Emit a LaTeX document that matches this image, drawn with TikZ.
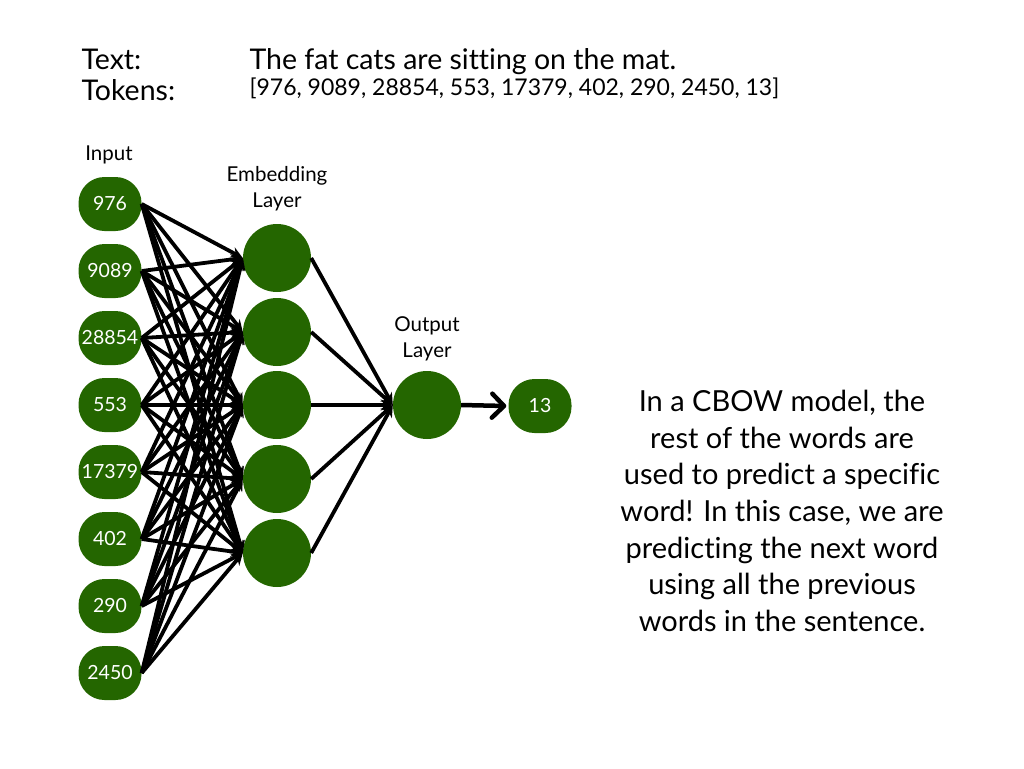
\documentclass[tikz,border=0pt]{standalone}
\usepackage{fontspec}
\setmainfont{Lato}[Ligatures=NoCommon]
\usetikzlibrary{arrows.meta}
\definecolor{nodegreen}{HTML}{246600}
\begin{document}
\begin{tikzpicture}[x=1pt,y=-1pt,
  inp/.style={draw=none,fill=nodegreen,rounded corners=26pt,minimum width=63pt,minimum height=54pt,inner sep=0pt,text=white,font=\fontsize{19.5}{19.5}\selectfont},
  neuron/.style={circle,fill=nodegreen,minimum size=68pt,inner sep=0pt},
  conn/.style={line width=3.8pt,-{Stealth[length=12pt,width=11pt]}},
  lbl/.style={align=center,font=\fontsize{20.5}{26}\selectfont},
  head/.style={anchor=base west,font=\fontsize{28.5}{28.5}\selectfont},
  outarrow/.style={line width=4.5pt,-{Straight Barb[length=12pt,width=24pt,line width=4.5pt,round]}},
]
\useasboundingbox (0,0) rectangle (1024,768);
% header
\node[head] (tl) at (78,69) {Text:};
\node[head] (tk) at (78,100) {Tokens:};
\node[head] (tt) at (246,69) {The fat cats are sitting on the mat.};
\node[anchor=base west,font=\fontsize{23}{23}\selectfont] (tn) at (246,95) {[976, 9089, 28854, 553, 17379, 402, 290, 2450, 13]};
% labels
\node[lbl] (linp) at (109,155) {Input};
\node[lbl] (lemb) at (277,189) {Embedding\\Layer};
\node[lbl] (lout) at (427,339) {Output\\Layer};
% input nodes
\node[inp] (i1) at (110,204) {976};
\node[inp] (i2) at (110,271) {9089};
\node[inp] (i3) at (110,338) {28854};
\node[inp] (i4) at (110,405) {553};
\node[inp] (i5) at (110,472) {17379};
\node[inp] (i6) at (110,539) {402};
\node[inp] (i7) at (110,606) {290};
\node[inp] (i8) at (110,673) {2450};
% embedding
\node[neuron] (e1) at (277,258) {};
\node[neuron] (e2) at (277,332) {};
\node[neuron] (e3) at (277,405) {};
\node[neuron] (e4) at (277,479) {};
\node[neuron] (e5) at (277,553) {};
% output
\node[neuron] (o) at (427,405) {};
\node[inp] (r) at (540,406) {13};
% connections
\foreach \i in {1,...,8}{
  \foreach \e in {1,...,5}{
    \draw[conn] (i\i.east) -- (e\e.west);
  }
}
\foreach \e in {1,...,5}{
  \draw[conn] (e\e.east) -- (o.west);
}
\draw[outarrow] (o.east) -- ([xshift=-2pt]r.west);
% right text
\node[align=center,font=\fontsize{29}{36.6}\selectfont] (desc) at (782,511) {In a CBOW model, the\\rest of the words are\\used to predict a specific\\word! In this case, we are\\predicting the next word\\using all the previous\\words in the sentence.};
\end{tikzpicture}
\end{document}
